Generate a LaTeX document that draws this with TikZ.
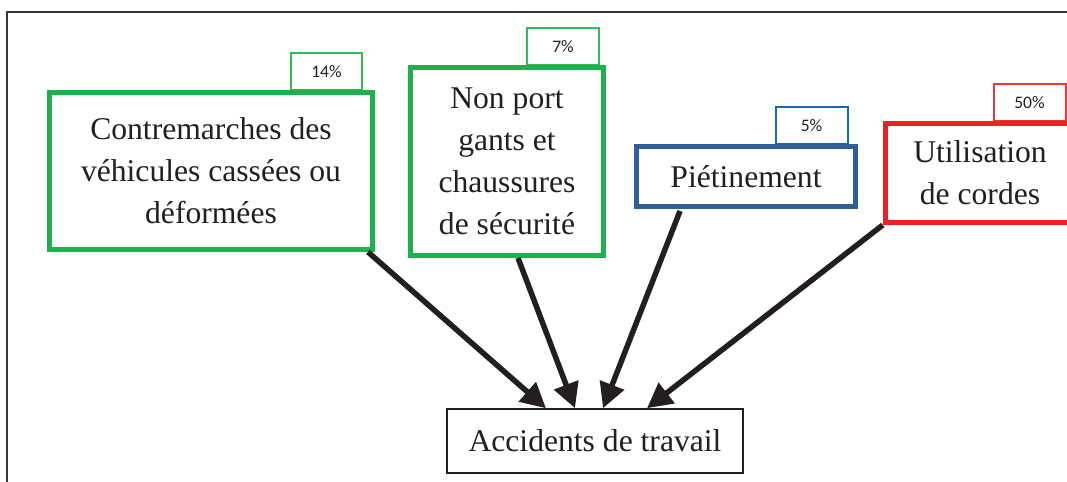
\documentclass[tikz,border=0pt]{standalone}
\usepackage{fontspec}
\setmainfont{Liberation Serif}
\newfontfamily\pctfont{Carlito}
\usepackage{tikz}
\usetikzlibrary{arrows.meta}

\definecolor{causegreen}{RGB}{29,177,75}
\definecolor{pctgreen}{RGB}{50,185,90}
\definecolor{causeblue}{RGB}{47,95,151}
\definecolor{pctblue}{RGB}{25,105,185}
\definecolor{causered}{RGB}{237,32,36}
\definecolor{pctred}{RGB}{238,55,55}
\definecolor{inkgray}{RGB}{35,31,32}

\begin{document}
\begin{tikzpicture}[x=0.02cm, y=-0.02cm,
    cause/.style={draw, line width=0.1cm, fill=white, align=center, inner sep=0pt,
        text=inkgray, font=\fontsize{18}{24}\selectfont},
    pct/.style={draw, line width=0.04cm, fill=white, inner sep=0pt,
        minimum width=1.44cm, minimum height=0.74cm, text=inkgray,
        font=\pctfont\fontsize{10}{12}\selectfont},
    link/.style={-{Triangle[length=0.5cm, width=0.5cm]}, line width=0.11cm, draw=inkgray}]
    \useasboundingbox (0,0) rectangle (1067,482);
    % Frame
    \draw[line width=0.04cm, draw=inkgray!90] (7,12) rectangle (1100,520);
    % Percentages
    \node[pct, draw=pctgreen] (pcontre) at (326.5,72) {14\%};
    \node[pct, draw=pctgreen] (pgants) at (563,47) {7\%};
    \node[pct, draw=pctblue] (ppietin) at (811.5,126) {5\%};
    \node[pct, draw=pctred] (pcordes) at (1029.5,103) {50\%};
    % Causes
    \node[cause, draw=causegreen, minimum width=6.46cm, minimum height=3.14cm] (contre) at (211,171)
        {Contremarches des\\véhicules cassées ou\\déformées};
    \node[cause, draw=causegreen, minimum width=3.86cm, minimum height=3.76cm] (gants) at (507,161.5)
        {Non port\\gants et\\chaussures\\de sécurité};
    \node[cause, draw=causeblue, minimum width=4.38cm, minimum height=1.2cm] (pietin) at (746,176.5)
        {Piétinement};
    \node[cause, draw=causered, minimum width=3.79cm, minimum height=1.98cm] (cordes) at (980,173)
        {Utilisation\\de cordes};
    % Effect
    \node[draw, line width=0.03cm, draw=inkgray, fill=white, text=inkgray, inner sep=0pt,
        minimum width=5.92cm, minimum height=1.28cm, font=\fontsize{18}{24}\selectfont] (accident) at (595,441)
        {Accidents de travail};
    % Arrows
    \draw[link] ([xshift=-0.14cm]contre.south east) -- ([xshift=-0.98cm]accident.north);
    \draw[link] ([xshift=0.22cm]gants.south) -- ([xshift=-0.4cm]accident.north);
    \draw[link] ([xshift=-1.32cm, yshift=-0.04cm]pietin.south) -- ([xshift=0.16cm]accident.north);
    \draw[link] (cordes.south west) -- ([xshift=1.04cm]accident.north);
\end{tikzpicture}
\end{document}
